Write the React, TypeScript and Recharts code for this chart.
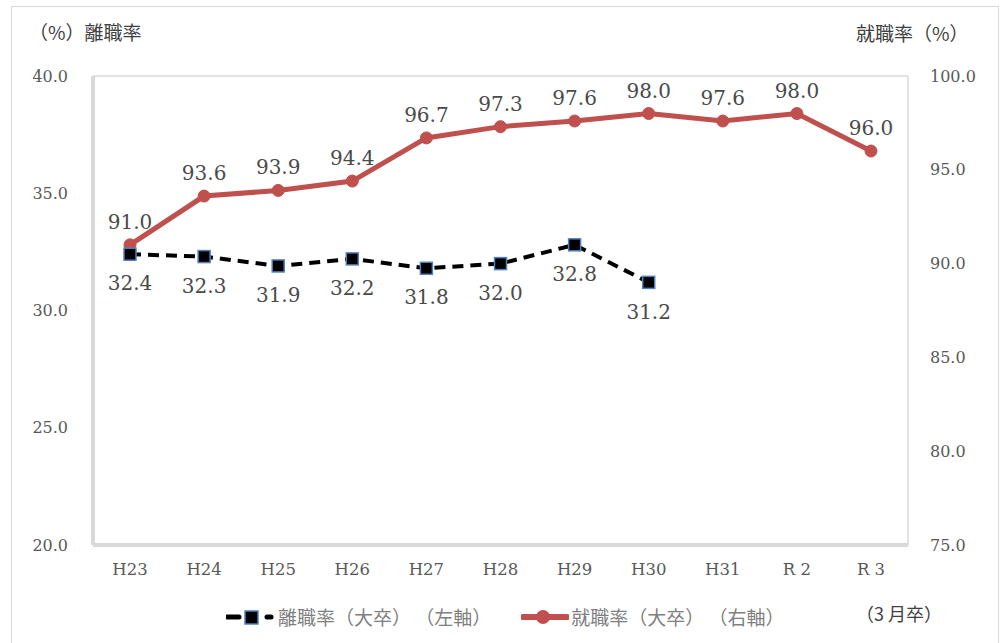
import {
  ComposedChart,
  Line,
  XAxis,
  YAxis,
  CartesianGrid,
  LabelList,
} from "recharts";

const years = ["H23", "H24", "H25", "H26", "H27", "H28", "H29", "H30", "H31", "R 2", "R 3"];
// 離職率（大卒） – only published through H30
const turnover = [32.4, 32.3, 31.9, 32.2, 31.8, 32.0, 32.8, 31.2, null, null, null];
// 就職率（大卒）
const employment = [91.0, 93.6, 93.9, 94.4, 96.7, 97.3, 97.6, 98.0, 97.6, 98.0, 96.0];

const leftTicks = [20, 25, 30, 35, 40];
const rightTicks = [75, 80, 85, 90, 95, 100];

const data = years.map((year, i) => ({
  year,
  turnover: turnover[i],
  employment: employment[i],
}));

const FONT = "'DejaVu Serif', 'Liberation Serif', 'Noto Sans CJK JP', serif";
const JP_FONT = "'Noto Sans CJK JP', 'DejaVu Serif', serif";
const RED = "#c0504d";
const GRID = "#d9d9d9";

const fmt = (v: any) => (v == null ? "" : Number(v).toFixed(1));

function SquareDot(props: any) {
  const { cx, cy, value } = props;
  if (value == null || cx == null || cy == null) return null;
  return (
    <rect
      x={cx - 6}
      y={cy - 6}
      width={12}
      height={12}
      fill="#000"
      stroke="#4f81bd"
      strokeWidth={1.5}
    />
  );
}

function ChartLegend() {
  return (
    <div
      style={{
        position: "absolute",
        left: 226,
        top: 603,
        display: "flex",
        alignItems: "center",
        fontFamily: JP_FONT,
        fontSize: 19,
        lineHeight: "28px",
        color: "#7f7f7f",
        whiteSpace: "pre",
      }}
    >
      <svg width={50} height={16}>
        <line x1={1} y1={8} x2={13} y2={8} stroke="#000" strokeWidth={5} strokeLinecap="round" />
        <rect x={19} y={2} width={13} height={13} fill="#000" stroke="#4f81bd" strokeWidth={1.5} />
        <line x1={41} y1={8} x2={45} y2={8} stroke="#000" strokeWidth={5} strokeLinecap="round" />
      </svg>
      <span style={{ marginLeft: 2 }}>離職率（大卒） （左軸）</span>
      <svg width={48} height={16} style={{ marginLeft: 30 }}>
        <line x1={2} y1={8} x2={46} y2={8} stroke={RED} strokeWidth={6} strokeLinecap="round" />
        <circle cx={22} cy={8} r={7} fill={RED} />
      </svg>
      <span style={{ marginLeft: 2 }}>就職率（大卒） （右軸）</span>
    </div>
  );
}

export default function App() {
  return (
    <div
      style={{
        position: "absolute",
        left: 0,
        top: 0,
        width: 1000,
        height: 643,
        background: "#fff",
        overflow: "hidden",
      }}
    >
      <div
        style={{
          position: "absolute",
          left: 11,
          top: 6,
          width: 986,
          height: 660,
          border: "1px solid #d9d9d9",
        }}
      />
      <div
        style={{
          position: "absolute",
          left: 29,
          top: 18,
          fontFamily: JP_FONT,
          fontSize: 19,
          lineHeight: "28px",
          color: "#404040",
        }}
      >
        （%）離職率
      </div>
      <div
        style={{
          position: "absolute",
          left: 856,
          top: 19,
          fontFamily: JP_FONT,
          fontSize: 19,
          lineHeight: "28px",
          color: "#404040",
        }}
      >
        就職率（%）
      </div>
      <div style={{ position: "absolute", left: 0, top: 0 }}>
        <ComposedChart
          width={1000}
          height={643}
          data={data}
          margin={{ top: 76, right: 0, bottom: 0, left: 0 }}
        >
          <CartesianGrid horizontal vertical={false} stroke={GRID} strokeWidth={1.5} />
          <XAxis
            dataKey="year"
            height={98}
            padding={{ left: 37, right: 37 }}
            axisLine={{ stroke: GRID, strokeWidth: 4 }}
            tickLine={false}
            tickSize={0}
            tickMargin={18}
            tick={{ fontFamily: FONT, fontSize: 16.5, fill: "#595959" }}
            interval={0}
          />
          <YAxis
            yAxisId="left"
            orientation="left"
            width={93}
            domain={[20, 40]}
            ticks={leftTicks}
            tickFormatter={fmt}
            axisLine={{ stroke: GRID, strokeWidth: 4 }}
            tickLine={false}
            tickSize={0}
            tickMargin={25}
            tick={{ fontFamily: FONT, fontSize: 16, fill: "#595959" }}
          />
          <YAxis
            yAxisId="right"
            orientation="right"
            width={92}
            domain={[75, 100]}
            ticks={rightTicks}
            tickFormatter={fmt}
            axisLine={{ stroke: GRID, strokeWidth: 1.5 }}
            tickLine={false}
            tickSize={0}
            tickMargin={22}
            tick={{ fontFamily: FONT, fontSize: 16, fill: "#595959" }}
          />
          <Line
            yAxisId="right"
            dataKey="employment"
            stroke={RED}
            strokeWidth={5}
            dot={{ r: 6, fill: RED, stroke: RED, strokeWidth: 1 }}
            isAnimationActive={false}
          >
            <LabelList
              dataKey="employment"
              position="top"
              offset={16}
              formatter={fmt}
              style={{ fontFamily: FONT, fontSize: 20, fill: "#4a4a4a" }}
            />
          </Line>
          <Line
            yAxisId="left"
            dataKey="turnover"
            stroke="#000"
            strokeWidth={4}
            strokeDasharray="11 7"
            dot={<SquareDot />}
            connectNulls={false}
            isAnimationActive={false}
          >
            <LabelList
              dataKey="turnover"
              position="bottom"
              offset={22}
              formatter={fmt}
              style={{ fontFamily: FONT, fontSize: 20, fill: "#4a4a4a" }}
            />
          </Line>
        </ComposedChart>
      </div>
      <ChartLegend />
      <div
        style={{
          position: "absolute",
          left: 856,
          top: 599,
          fontFamily: JP_FONT,
          fontSize: 18,
          lineHeight: "28px",
          color: "#404040",
          whiteSpace: "pre",
        }}
      >
        （3 月卒）
      </div>
    </div>
  );
}
